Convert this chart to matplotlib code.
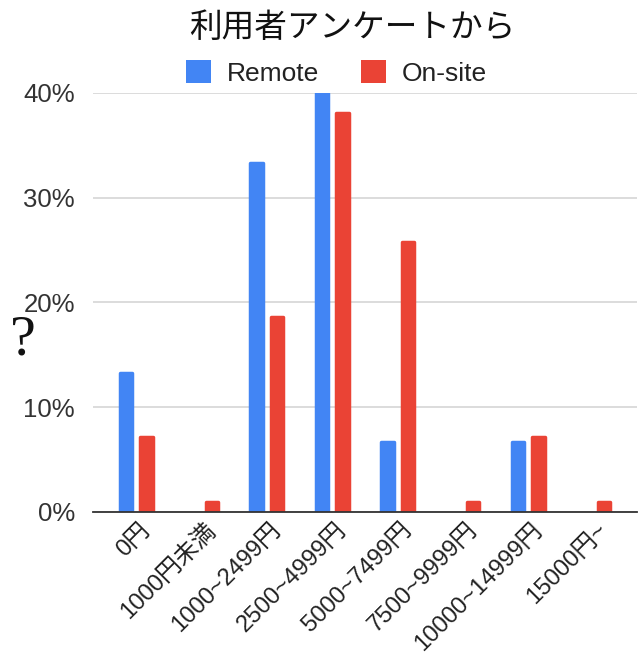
import matplotlib
matplotlib.use("Agg")
import matplotlib.pyplot as plt
import matplotlib.transforms as mtransforms
import numpy as np
from matplotlib.patches import Patch

categories = ["0円", "1000円未満", "1000~2499円", "2500~4999円", "5000~7499円",
              "7500~9999円", "10000~14999円", "15000円~"]
remote = [13.3, 0.0, 33.3, 40.0, 6.7, 0.0, 6.7, 0.0]
onsite = [7.2, 1.0, 18.6, 38.1, 25.8, 1.0, 7.2, 1.0]
yticks = [0, 10, 20, 30, 40]
ytick_labels = ["0%", "10%", "20%", "30%", "40%"]
series_names = ["Remote", "On-site"]
title = "利用者アンケートから"

BLUE = "#4285F4"
RED = "#EA4335"
FONT = ["Liberation Sans", "Noto Sans CJK JP", "DejaVu Sans"]
plt.rcParams["font.family"] = FONT

fig = plt.figure(figsize=(6.4, 6.58), dpi=100)
ax = fig.add_axes([0.1453, 0.2219, 0.8497, 0.6368])

x = np.arange(len(categories))
w = 0.19
off = 0.157
lw = 2.5
ax.bar(x - off, remote, width=w, color=BLUE, edgecolor=BLUE, joinstyle="round",
       linewidth=[lw if v > 0 else 0 for v in remote], zorder=3)
ax.bar(x + off, onsite, width=w, color=RED, edgecolor=RED, joinstyle="round",
       linewidth=[lw if v > 0 else 0 for v in onsite], zorder=3)

ax.set_xlim(-0.66, len(categories) - 1 + 0.66)
ax.set_ylim(0, 40)
ax.set_yticks(yticks)
ax.set_yticklabels(ytick_labels, fontsize=18.5, color="#333333")
ax.yaxis.grid(True, color="#d9d9d9", linewidth=1.3, zorder=0)
ax.tick_params(axis="y", length=0, pad=13)
ax.tick_params(axis="x", length=0, pad=5)
for s in ["top", "right", "left"]:
    ax.spines[s].set_visible(False)
ax.spines["bottom"].set_color("#333333")
ax.spines["bottom"].set_linewidth(1.3)
ax.spines["bottom"].set_zorder(4)

ax.set_xticks(x)
ax.set_xticklabels(categories, fontsize=17.2, color="#222222", rotation=45,
                   ha="right", rotation_mode="anchor")
shift = mtransforms.ScaledTranslation(3 / 100, 0, fig.dpi_scale_trans)
for lab in ax.get_xticklabels():
    lab.set_transform(lab.get_transform() + shift)

fig.text(0.55, 0.958, title, fontsize=23.5, ha="center", va="center",
         family=["Noto Sans CJK JP"], color="#111111")
fig.text(0.036, 0.483, "?", fontsize=42, ha="center", va="center",
         family=["Liberation Serif"], color="#111111")

handles = [Patch(facecolor=BLUE, label=series_names[0]),
           Patch(facecolor=RED, label=series_names[1])]
fig.legend(handles=handles, loc="center", bbox_to_anchor=(0.526, 0.889), ncol=2,
           frameon=False, fontsize=19, handlelength=0.95, handleheight=0.95,
           columnspacing=1.6, handletextpad=0.6, labelcolor="#222222")

fig.savefig("out.png", dpi=100, facecolor="white")
